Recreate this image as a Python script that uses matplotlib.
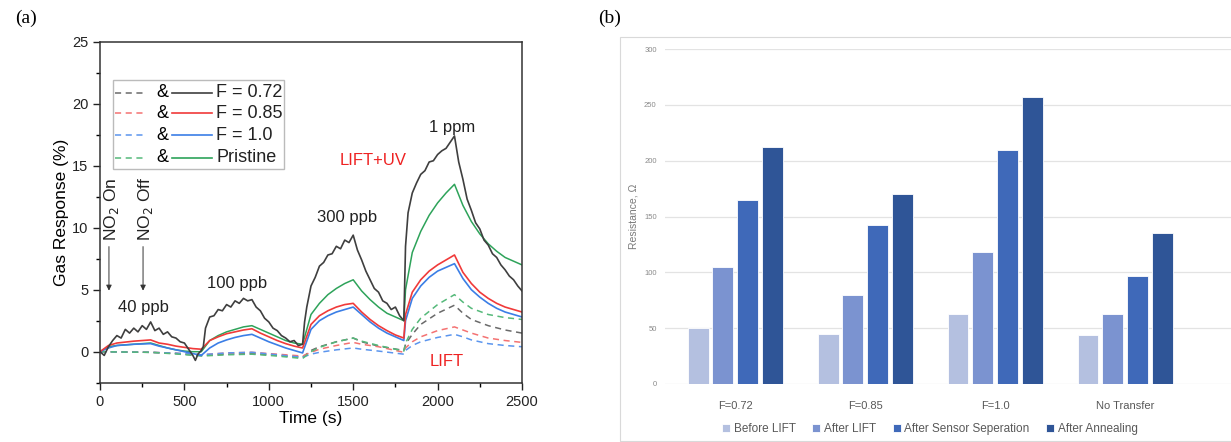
import numpy as np
import matplotlib

matplotlib.use("Agg")
import matplotlib.pyplot as plt  # noqa: E402
from matplotlib.patches import Rectangle  # noqa: E402

plt.rcParams["font.family"] = ["Liberation Sans", "DejaVu Sans"]

# ---------------- (a) gas response curves ----------------
T_F072 = [0, 25, 50, 75, 100, 125, 150, 175, 200, 225, 250, 275, 300, 325, 350, 375, 400,
          425, 450, 475, 500, 525, 550, 565, 580, 600, 612, 625, 650, 675, 700, 725, 750,
          775, 800, 825, 850, 875, 900, 925, 950, 975, 1000, 1025, 1050, 1075, 1100, 1125,
          1150, 1175, 1200, 1212, 1225, 1250, 1275, 1300, 1325, 1350, 1375, 1400, 1425,
          1450, 1475, 1500, 1525, 1550, 1575, 1600, 1625, 1650, 1675, 1700, 1725, 1750,
          1775, 1800, 1810, 1825, 1850, 1875, 1900, 1925, 1950, 1975, 2000, 2025, 2050,
          2075, 2100, 2125, 2150, 2175, 2200, 2225, 2250, 2275, 2300, 2325, 2350, 2375,
          2400, 2425, 2450, 2475, 2500]
V_F072 = [0.0, -0.3, 0.4, 0.9, 1.3, 1.1, 1.8, 1.5, 1.9, 1.6, 2.1, 1.8, 2.4, 1.7, 1.9, 1.4, 1.6,
          1.2, 1.1, 0.8, 0.7, 0.2, -0.3, -0.7, -0.2, 0.1, 0.4, 1.9, 2.8, 2.9, 3.4, 3.3, 3.8,
          3.6, 4.1, 3.9, 4.3, 4.1, 4.2, 3.6, 3.3, 2.7, 2.4, 1.9, 1.7, 1.3, 1.1, 0.8,
          0.9, 0.5, 0.6, 2.4, 3.6, 5.3, 6.0, 6.9, 7.2, 7.8, 7.9, 8.5, 8.3,
          9.0, 8.8, 9.4, 8.2, 7.4, 6.5, 5.8, 5.1, 4.8, 4.1, 3.9, 3.4, 3.6,
          2.9, 2.5, 8.5, 11.2, 12.8, 13.6, 14.3, 14.6, 15.3, 15.4, 15.9, 16.2, 16.4,
          16.9, 17.4, 15.3, 13.9, 12.3, 11.4, 10.4, 9.9, 9.0, 8.6, 7.9, 7.6, 7.0,
          6.6, 6.1, 5.8, 5.3, 4.9]

T_SMOOTH = [0, 50, 100, 200, 300, 350, 400, 450, 500, 550, 600, 650, 700, 750, 800, 850,
            900, 950, 1000, 1050, 1100, 1150, 1200, 1250, 1300, 1350, 1400, 1450, 1500,
            1550, 1600, 1650, 1700, 1750, 1800, 1810, 1850, 1900, 1950, 2000, 2050, 2100,
            2150, 2200, 2250, 2300, 2350, 2400, 2450, 2500]
V_F085 = [0.0, 0.5, 0.7, 0.85, 0.95, 0.7, 0.6, 0.45, 0.35, 0.25, 0.2, 0.9, 1.2, 1.45, 1.6, 1.75,
          1.85, 1.5, 1.2, 0.9, 0.65, 0.45, 0.3, 2.2, 2.9, 3.3, 3.6, 3.8, 3.9,
          3.2, 2.6, 2.1, 1.7, 1.35, 1.1, 3.0, 4.8, 5.8, 6.5, 7.0, 7.4, 7.8,
          6.4, 5.5, 4.8, 4.3, 3.9, 3.6, 3.4, 3.2]
V_F10 = [0.0, 0.3, 0.5, 0.6, 0.65, 0.45, 0.3, 0.15, 0.0, -0.15, -0.3, 0.3, 0.7, 0.95, 1.15, 1.3,
         1.4, 1.1, 0.8, 0.55, 0.3, 0.1, -0.1, 1.8, 2.5, 2.9, 3.2, 3.4, 3.6,
         3.0, 2.4, 1.9, 1.5, 1.2, 0.9, 2.5, 4.3, 5.3, 6.0, 6.5, 6.8, 7.1,
         5.9, 5.0, 4.4, 3.9, 3.5, 3.2, 3.0, 2.8]
V_PRIS = [0.0, 0.4, 0.5, 0.6, 0.7, 0.5, 0.3, 0.15, 0.05, 0.0, 0.0, 0.9, 1.3, 1.6, 1.8, 2.0,
          2.1, 1.8, 1.5, 1.2, 0.9, 0.7, 0.6, 3.0, 3.9, 4.6, 5.1, 5.5, 5.8,
          4.9, 4.2, 3.6, 3.1, 2.8, 2.5, 5.0, 8.0, 9.7, 11.0, 12.0, 12.8, 13.5,
          11.8, 10.5, 9.5, 8.7, 8.1, 7.6, 7.3, 7.0]

T_LIFT = [0, 100, 300, 450, 600, 750, 900, 1050, 1200, 1250, 1300, 1400, 1500, 1550, 1650,
          1800, 1810, 1850, 1900, 2000, 2100, 2150, 2200, 2300, 2400, 2500]
V_LIFT_F072 = [0.0, -0.02, -0.05, -0.15, -0.3, -0.2, -0.15, -0.3, -0.45, 0.1, 0.4, 0.8, 1.1,
               0.8, 0.45, 0.1, 0.6, 1.4, 2.2, 3.1, 3.75, 3.1, 2.6, 2.1, 1.75, 1.5]
V_LIFT_F085 = [0.0, -0.02, -0.05, -0.12, -0.25, -0.1, -0.05, -0.2, -0.35, -0.05, 0.2, 0.5, 0.75,
               0.6, 0.4, -0.05, 0.3, 0.8, 1.2, 1.7, 2.0, 1.75, 1.5, 1.1, 0.9, 0.75]
V_LIFT_F10 = [0.0, -0.02, -0.05, -0.12, -0.25, -0.1, -0.05, -0.25, -0.45, -0.2, -0.05, 0.15, 0.3,
              0.2, 0.05, -0.2, 0.1, 0.5, 0.8, 1.15, 1.4, 1.2, 0.95, 0.65, 0.5, 0.4]
V_LIFT_PRIS = [0.0, -0.02, -0.05, -0.18, -0.35, -0.25, -0.2, -0.35, -0.55, 0.0, 0.35, 0.8, 1.1,
               0.85, 0.5, 0.05, 0.7, 1.8, 2.7, 3.8, 4.6, 4.0, 3.5, 3.0, 2.75, 2.6]

LEGEND_LABELS = ["F = 0.72", "F = 0.85", "F = 1.0", "Pristine"]

# ---------------- (b) resistance bars ----------------
CATEGORIES = ["F=0.72", "F=0.85", "F=1.0", "No Transfer"]
STAGES = ["Before LIFT", "After LIFT", "After Sensor Seperation", "After Annealing"]
R_BEFORE_LIFT = [50, 45, 63, 44]
R_AFTER_LIFT = [105, 80, 118, 63]
R_AFTER_SEP = [165, 142, 210, 97]
R_AFTER_ANNEAL = [212, 170, 257, 135]

COL_BLACK, COL_BLACK_D = "#3f3f3f", "#6a6a6a"
COL_RED, COL_RED_D = "#f03a3a", "#f47272"
COL_BLUE, COL_BLUE_D = "#3b7ee6", "#5b95ee"
COL_GREEN, COL_GREEN_D = "#2ea35a", "#55b97a"
BAR_COLORS = ["#b4c0e0", "#7b93d0", "#3f69b9", "#2f5597"]


def panel_a(fig):
    ax = fig.add_axes([100 / 1231, 1 - 382.7 / 442, 422 / 1231, 341 / 442])
    dashed = [(V_LIFT_F072, COL_BLACK_D), (V_LIFT_F085, COL_RED_D),
              (V_LIFT_F10, COL_BLUE_D), (V_LIFT_PRIS, COL_GREEN_D)]
    for v, c in dashed:
        ax.plot(T_LIFT, v, ls=(0, (4, 3)), color=c, lw=1.1)
    ax.plot(T_SMOOTH, V_PRIS, color=COL_GREEN, lw=1.1)
    ax.plot(T_SMOOTH, V_F10, color=COL_BLUE, lw=1.2)
    ax.plot(T_SMOOTH, V_F085, color=COL_RED, lw=1.2)
    ax.plot(T_F072, V_F072, color=COL_BLACK, lw=1.2)

    ax.set_xlim(0, 2500); ax.set_ylim(-2.5, 25)
    ax.set_xticks(np.arange(0, 2501, 500)); ax.set_yticks(np.arange(0, 26, 5))
    ax.set_xticks(np.arange(250, 2500, 500), minor=True)
    ax.set_yticks(np.arange(-2.5, 25, 5), minor=True)
    ax.tick_params(which="major", direction="out", length=5, width=1, labelsize=10.5, colors="#222222")
    ax.tick_params(which="minor", direction="out", length=3, width=1)
    for sp in ax.spines.values():
        sp.set_linewidth(1.1); sp.set_color("#333333")
    ax.set_xlabel("Time (s)", fontsize=12.5, labelpad=2)
    ax.set_ylabel("Gas Response (%)", fontsize=12.5, labelpad=2)

    for txt, t, v in [("40 ppb", 255, 3.6), ("100 ppb", 812, 5.5),
                      ("300 ppb", 1463, 10.8), ("1 ppm", 2085, 18.1)]:
        ax.text(t, v, txt, fontsize=12, ha="center", va="center", color="#222222")
    ax.text(1617, 15.4, "LIFT+UV", fontsize=12, ha="center", va="center", color="#ee2222")
    ax.text(2055, -0.8, "LIFT", fontsize=12, ha="center", va="center", color="#ee2222")

    for t, lab in [(53, "NO$_2$ On"), (255, "NO$_2$ Off")]:
        ax.annotate("", xy=(t, 4.7), xytext=(t, 8.7),
                    arrowprops=dict(arrowstyle="-|>", color="#333333", lw=0.7, mutation_scale=8))
        ax.text(t + 15, 8.9, lab, rotation=90, fontsize=12.5, ha="center", va="bottom", color="#222222")

    # legend: dashed & solid pairs
    box = Rectangle((0.030, 0.627), 0.406, 0.261, transform=ax.transAxes,
                    facecolor="white", edgecolor="#bbbbbb", lw=1.0, zorder=5)
    ax.add_patch(box)
    rows = [0.851, 0.790, 0.725, 0.660]
    pairs = [(COL_BLACK_D, COL_BLACK), (COL_RED_D, COL_RED),
             (COL_BLUE_D, COL_BLUE), (COL_GREEN_D, COL_GREEN)]
    for y, (cd, cs), lab in zip(rows, pairs, LEGEND_LABELS):
        ax.plot([0.036, 0.111], [y, y], transform=ax.transAxes, color=cd, lw=1.1,
                ls=(0, (4, 3)), zorder=6)
        ax.text(0.147, y, "&", transform=ax.transAxes, fontsize=13, ha="center", va="center", zorder=6)
        ax.plot([0.171, 0.265], [y, y], transform=ax.transAxes, color=cs, lw=1.2, zorder=6)
        ax.text(0.275, y, lab, transform=ax.transAxes, fontsize=13, ha="left", va="center",
                color="#222222", zorder=6)


def panel_b(fig):
    fig.patches.append(Rectangle((620 / 1231, 1 - 441 / 442), 700 / 1231, 404 / 442,
                                 transform=fig.transFigure, facecolor="none",
                                 edgecolor="#d9d9d9", lw=0.8))
    ax = fig.add_axes([665 / 1231, 1 - 384 / 442, 566 / 1231, 335 / 442])
    x = np.arange(len(CATEGORIES))
    series = [R_BEFORE_LIFT, R_AFTER_LIFT, R_AFTER_SEP, R_AFTER_ANNEAL]
    offsets = [-0.285, -0.095, 0.095, 0.285]
    for vals, off, col, lab in zip(series, offsets, BAR_COLORS, STAGES):
        ax.bar(x + off, vals, width=0.16, color=col, edgecolor="white", lw=0.6, label=lab, zorder=3)
    ax.set_xlim(-0.54, 3.815); ax.set_ylim(0, 300)
    ax.set_yticks(np.arange(0, 301, 50))
    ax.yaxis.grid(True, color="#e3e3e3", lw=0.9, zorder=0)
    for sp in ax.spines.values():
        sp.set_visible(False)
    ax.tick_params(axis="y", length=0, labelsize=5.5, labelcolor="#8a8a8a", pad=6)
    ax.tick_params(axis="x", length=0, labelsize=8, labelcolor="#595959", pad=12)
    ax.set_xticks(x); ax.set_xticklabels(CATEGORIES)
    ax.set_ylabel("Resistance, \u03a9", fontsize=7.5, color="#7a7a7a", labelpad=4)
    ax.legend(loc="upper center", bbox_to_anchor=(0.468, -0.085), ncol=4, frameon=False,
              fontsize=8.5, handlelength=0.7, handleheight=0.7, handletextpad=0.3,
              columnspacing=1.4, labelcolor="#595959")


def main():
    fig = plt.figure(figsize=(12.31, 4.42), dpi=100)
    panel_a(fig)
    panel_b(fig)
    fig.text(15 / 1231, 1 - 18 / 442, "(a)", fontsize=14, family="Liberation Serif", va="center")
    fig.text(598 / 1231, 1 - 18 / 442, "(b)", fontsize=14, family="Liberation Serif", va="center")
    fig.savefig("out.png", dpi=100)
    plt.close(fig)


if __name__ == "__main__":
    main()
